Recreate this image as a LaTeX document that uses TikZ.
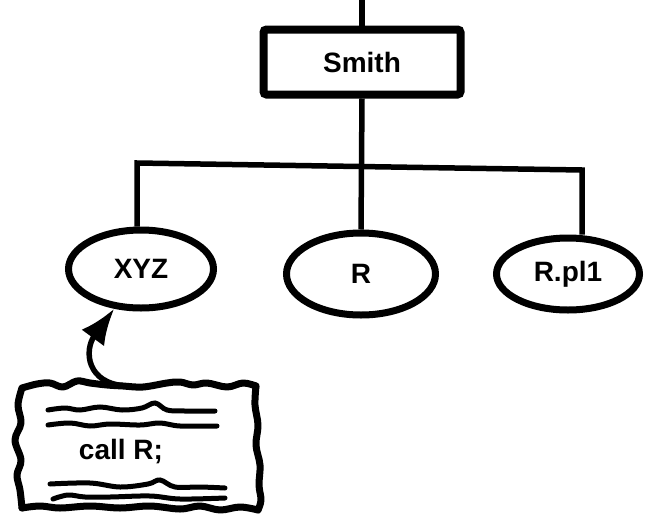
\documentclass[tikz,border=0pt]{standalone}
\usepackage{fontspec}
\setmainfont{Liberation Sans}
\usetikzlibrary{shapes.geometric,arrows.meta}
\begin{document}
\begin{tikzpicture}[x=1pt,y=-1pt,
  bigtext/.style={font=\fontsize{28}{32}\selectfont\bfseries},
  modbox/.style={draw,line width=8pt,rounded corners=3pt,inner sep=0pt,
    minimum width=197pt,minimum height=65pt,bigtext},
  leaf/.style={draw,ellipse,line width=7pt,inner sep=0pt,bigtext},
  link/.style={line width=5.5pt},
  wavy/.style={line width=7pt,line join=round,line cap=round},
  scrib/.style={line width=5pt,line cap=round}]
  \useasboundingbox (0,0) rectangle (656,517);
  \node [modbox] (smith) at (362,62) {Smith};
  \node [leaf,minimum width=145pt,minimum height=78pt] (xyz) at (141,269) {XYZ};
  \node [leaf,minimum width=149pt,minimum height=82pt] (r) at (361,274) {R};
  \node [leaf,minimum width=143pt,minimum height=72pt] (rpl) at (568,274) {R.pl1};
  \node [bigtext,inner sep=0pt] (call) at (121,452) {call R;};
  \coordinate (up) at (362,0);
  \coordinate (jl) at (137,163);
  \coordinate (jr) at (582,170);
  \coordinate (doctop) at (127,386);
  \draw [link] (up) -- (smith.north);
  \draw [link] (smith.south) -- (r.north);
  \draw [link] (xyz.north -| jl) -- (jl) -- (jr) -- (rpl.north -| jr);
  \draw [wavy] plot [smooth,tension=0.6] coordinates {(22,388) (37,384) (50,383) (63,387) (77,381) (90,383) (107,385) (123,386) (143,387) (167,383) (180,382) (193,385) (207,383) (227,387) (243,383) (256,386)};
  \draw [wavy] plot [smooth,tension=0.6] coordinates {(256,386) (255,405) (258,425) (256,445) (260,465) (259,485) (261,500) (258,510)};
  \draw [wavy] plot [smooth,tension=0.6] coordinates {(258,510) (240,507) (220,510) (200,506) (180,509) (150,506) (120,508) (90,506) (60,508) (40,506) (22,508)};
  \draw [wavy] plot [smooth,tension=0.6] coordinates {(22,508) (20,490) (17,475) (21,460) (15,440) (21,423) (18,405) (22,388)};
  \draw [scrib] plot [smooth,tension=0.6] coordinates {(48,410) (65,408) (80,410) (100,407) (122,410) (142,408) (155,403) (167,410) (185,411) (215,411)};
  \draw [scrib] plot [smooth,tension=0.6] coordinates {(48,425) (70,423) (90,426) (110,424) (140,425) (160,423) (180,426) (217,426)};
  \draw [scrib] plot [smooth,tension=0.6] coordinates {(50,484) (90,483) (120,487) (148,484) (160,480) (175,487) (200,487) (225,488)};
  \draw [scrib] plot [smooth,tension=0.6] coordinates {(53,499) (68,495) (85,497) (110,497) (150,496) (180,499) (225,498)};
  \draw [line width=5.5pt,-{Latex[length=36pt,width=28pt]}] (doctop) .. controls (86,384) and (84,350) .. (xyz.236);
\end{tikzpicture}
\end{document}
